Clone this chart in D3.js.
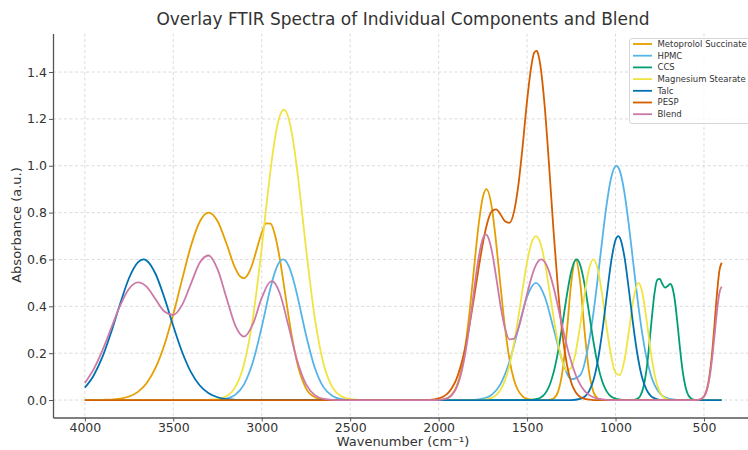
<!DOCTYPE html>
<html>
<head>
<meta charset="utf-8">
<script src="https://cdn.jsdelivr.net/npm/d3@7"></script>
<style>
body { margin: 0; background: #fff; }
text { font-family: "DejaVu Sans", sans-serif; }
</style>
</head>
<body>
<svg id="chart" width="748" height="450"></svg>
<script>
// series names / colours, in legend order
var seriesNames = ["Metoprolol Succinate", "HPMC", "CCS", "Magnesium Stearate", "Talc", "PESP", "Blend"];
var seriesColors = ["#E69F00", "#56B4E9", "#009E73", "#F0E442", "#0072B2", "#D55E00", "#CC79A7"];

var xTicks = [4000, 3500, 3000, 2500, 2000, 1500, 1000, 500];
var yTicks = [0, 0.2, 0.4, 0.6, 0.8, 1.0, 1.2, 1.4];

// [wavenumber, absorbance]
var metoprolol = [[4000,0],[3900,0.001],[3850,0.002],[3800,0.006],[3750,0.015],[3700,0.035],[3650,0.073],
  [3600,0.138],[3550,0.236],[3500,0.366],[3450,0.515],[3400,0.658],[3350,0.762],[3300,0.800],[3250,0.764],
  [3200,0.669],[3150,0.563],[3125,0.530],[3100,0.520],[3075,0.540],[3050,0.587],[3025,0.652],[3000,0.714],
  [2975,0.754],[2950,0.753],[2925,0.704],[2900,0.612],[2875,0.492],[2850,0.366],[2825,0.252],[2800,0.160],
  [2750,0.050],[2700,0.012],[2650,0.002],[2600,0],
  [2050,0],[2000,0.001],[1975,0.003],[1950,0.008],[1925,0.023],[1900,0.055],[1875,0.118],[1850,0.224],
  [1825,0.377],[1800,0.561],[1775,0.741],[1750,0.866],[1730,0.900],[1700,0.825],[1675,0.672],[1650,0.486],
  [1625,0.311],[1600,0.176],[1575,0.089],[1550,0.040],[1525,0.016],[1500,0.005],[1475,0.002],[1450,0],
  [1400,0],[1375,0.001],[1350,0.007],[1325,0.035],[1300,0.122],[1275,0.295],[1250,0.503],[1225,0.600],
  [1200,0.503],[1175,0.295],[1150,0.122],[1125,0.035],[1100,0.007],[1075,0.001],[1050,0],[400,0]];

var hpmc = [[4000,0],[3300,0],[3250,0.001],[3200,0.006],[3150,0.022],[3100,0.067],[3050,0.162],[3000,0.312],
  [2950,0.480],[2925,0.547],[2900,0.589],[2880,0.600],[2850,0.576],[2825,0.523],[2800,0.449],[2750,0.279],
  [2700,0.138],[2650,0.054],[2600,0.017],[2550,0.004],[2500,0.001],[2450,0],
  [1850,0],[1800,0.001],[1750,0.006],[1700,0.022],[1650,0.068],[1600,0.162],[1550,0.303],[1500,0.441],
  [1450,0.500],[1400,0.441],[1350,0.304],[1300,0.166],[1250,0.089],[1200,0.106],[1150,0.248],[1125,0.371],
  [1100,0.523],[1075,0.685],[1050,0.836],[1025,0.948],[995,1.000],[975,0.977],[950,0.887],[925,0.749],
  [900,0.587],[875,0.427],[850,0.289],[825,0.181],[800,0.106],[750,0.029],[700,0.006],[650,0.001],[600,0],[400,0]];

var ccs = [[4000,0],[1500,0],[1450,0.004],[1425,0.010],[1400,0.026],[1375,0.059],[1350,0.118],[1325,0.207],
  [1300,0.324],[1275,0.448],[1250,0.550],[1220,0.600],[1200,0.577],[1175,0.494],[1150,0.374],[1125,0.251],
  [1100,0.150],[1075,0.079],[1050,0.037],[1025,0.015],[1000,0.006],[975,0.002],[950,0],
  [900,0.001],[880,0.004],[860,0.018],[840,0.062],[820,0.159],[800,0.309],[780,0.454],[765,0.512],
  [750,0.517],[735,0.495],[720,0.480],[705,0.487],[690,0.496],[680,0.484],[665,0.427],[650,0.328],
  [635,0.216],[620,0.121],[605,0.058],[590,0.023],[575,0.008],[560,0.002],[540,0],[400,0]];

var mgStearate = [[4000,0],[3350,0],[3300,0.001],[3250,0.004],[3200,0.016],[3150,0.054],[3100,0.153],
  [3050,0.350],[3000,0.650],[2975,0.820],[2950,0.983],[2925,1.118],[2900,1.208],[2875,1.240],[2850,1.208],
  [2825,1.118],[2800,0.983],[2775,0.820],[2750,0.650],[2700,0.350],[2650,0.153],[2600,0.054],[2550,0.016],
  [2500,0.004],[2450,0.001],[2400,0],
  [1800,0],[1750,0.001],[1700,0.009],[1675,0.021],[1650,0.044],[1625,0.084],[1600,0.147],[1575,0.237],
  [1550,0.350],[1525,0.474],[1500,0.589],[1475,0.670],[1450,0.700],[1425,0.670],[1400,0.589],[1375,0.474],
  [1350,0.352],[1325,0.242],[1300,0.163],[1275,0.126],[1250,0.138],[1225,0.205],[1200,0.317],[1175,0.450],
  [1150,0.558],[1125,0.600],[1100,0.557],[1075,0.446],[1050,0.309],[1025,0.190],[1000,0.116],[975,0.107],
  [950,0.169],[925,0.291],[900,0.425],[870,0.500],[850,0.464],[825,0.344],[800,0.202],[775,0.094],
  [750,0.035],[725,0.010],[700,0.002],[675,0],[400,0]];

var talc = [[4000,0.053],[3950,0.105],[3900,0.185],[3850,0.292],[3800,0.412],[3750,0.521],[3700,0.588],
  [3670,0.600],[3650,0.595],[3600,0.538],[3550,0.436],[3500,0.316],[3450,0.205],[3400,0.119],[3350,0.062],
  [3300,0.029],[3250,0.012],[3200,0.004],[3150,0.001],[3100,0],
  [1250,0],[1200,0.005],[1175,0.014],[1150,0.037],[1125,0.084],[1100,0.168],[1075,0.292],[1050,0.443],
  [1025,0.589],[1000,0.683],[985,0.700],[975,0.692],[950,0.613],[925,0.474],[900,0.320],[875,0.189],
  [850,0.097],[825,0.044],[800,0.017],[775,0.006],[750,0.001],[725,0],[400,0]];

var pesp = [[4000,0],[2100,0],[2050,0.001],[2025,0.003],[2000,0.007],[1975,0.014],[1950,0.027],[1925,0.051],
  [1900,0.088],[1875,0.145],[1850,0.222],[1825,0.322],[1800,0.437],[1775,0.557],[1750,0.669],[1725,0.756],
  [1700,0.805],[1675,0.814],[1650,0.792],[1625,0.763],[1600,0.756],[1575,0.800],[1550,0.913],[1525,1.084],
  [1500,1.277],[1475,1.430],[1460,1.482],[1445,1.490],[1435,1.470],[1425,1.429],[1400,1.250],[1375,0.995],
  [1350,0.718],[1325,0.472],[1300,0.280],[1275,0.152],[1250,0.074],[1225,0.033],[1200,0.013],[1175,0.005],
  [1150,0.002],[1125,0],
  [550,0],[525,0.002],[500,0.015],[487.5,0.036],[475,0.075],[462.5,0.141],[450,0.235],[437.5,0.351],
  [425,0.466],[412.5,0.553],[400,0.586]];

var blend = [[4000,0.073],[3950,0.132],[3900,0.213],[3850,0.309],[3800,0.404],[3750,0.475],[3700,0.502],
  [3650,0.483],[3600,0.430],[3550,0.378],[3500,0.363],[3450,0.406],[3400,0.497],[3350,0.587],[3300,0.617],
  [3250,0.559],[3200,0.438],[3150,0.319],[3100,0.271],[3050,0.324],[3000,0.436],[2950,0.506],[2940,0.507],
  [2900,0.460],[2850,0.320],[2800,0.169],[2750,0.068],[2700,0.021],[2650,0.005],[2600,0.001],[2550,0],
  [2025,0],[2000,0.001],[1975,0.003],[1950,0.008],[1925,0.022],[1900,0.051],[1875,0.106],[1850,0.196],
  [1825,0.321],[1800,0.467],[1775,0.602],[1750,0.689],[1735,0.707],[1725,0.702],[1700,0.639],[1675,0.526],
  [1650,0.403],[1625,0.307],[1600,0.259],[1575,0.261],[1550,0.305],[1525,0.374],[1500,0.452],[1475,0.524],
  [1450,0.576],[1420,0.600],[1400,0.589],[1375,0.547],[1350,0.480],[1325,0.398],[1300,0.312],[1275,0.231],
  [1250,0.162],[1225,0.107],[1200,0.067],[1175,0.039],[1150,0.022],[1125,0.012],[1100,0.006],[1075,0.003],
  [1050,0.001],[1025,0],
  [550,0],[525,0.002],[500,0.015],[487.5,0.034],[475,0.069],[462.5,0.125],[450,0.204],[437.5,0.297],
  [425,0.390],[412.5,0.458],[400,0.484]];

var allSeries = [metoprolol, hpmc, ccs, mgStearate, talc, pesp, blend];

var svg = d3.select("#chart");
var plotLeft = 53, plotRight = 753.5, plotTop = 33.5, plotBottom = 417.5;

var x = d3.scaleLinear().domain([4180, 220]).range([plotLeft, plotRight]);
var y = d3.scaleLinear().domain([-0.0745, 1.5645]).range([plotBottom, plotTop]);

// grid
var grid = svg.append("g").attr("stroke", "#d2d2d2").attr("stroke-width", 0.8).attr("stroke-dasharray", "3,2.5");
grid.selectAll(".gx").data(xTicks).enter().append("line")
  .attr("x1", d => x(d)).attr("x2", d => x(d)).attr("y1", plotTop).attr("y2", plotBottom);
grid.selectAll(".gy").data(yTicks).enter().append("line")
  .attr("x1", plotLeft).attr("x2", plotRight).attr("y1", d => y(d)).attr("y2", d => y(d));

// spectra
var line = d3.line().x(d => x(d[0])).y(d => y(d[1])).curve(d3.curveMonotoneX);
svg.append("g").selectAll("path").data(allSeries).enter().append("path")
  .attr("d", line)
  .attr("fill", "none")
  .attr("stroke", (d, i) => seriesColors[i])
  .attr("stroke-width", 1.8)
  .attr("stroke-linejoin", "round");

// axes
var xAxis = svg.append("g").attr("transform", "translate(0," + plotBottom + ")")
  .call(d3.axisBottom(x).tickValues(xTicks).tickSize(4).tickSizeOuter(0).tickPadding(2).tickFormat(d3.format("d")));
var yAxis = svg.append("g").attr("transform", "translate(" + plotLeft + ",0)")
  .call(d3.axisLeft(y).tickValues(yTicks).tickSize(4).tickSizeOuter(0).tickPadding(2).tickFormat(d3.format(".1f")));
[xAxis, yAxis].forEach(function(a) {
  a.select(".domain").attr("stroke", "#555").attr("stroke-width", 1.3);
  a.selectAll(".tick line").attr("stroke", "#555");
  a.selectAll(".tick text").attr("fill", "#333").style("font-size", "12.5px").style("font-family", "DejaVu Sans");
});

// titles
svg.append("text").attr("x", 403).attr("y", 25).attr("text-anchor", "middle")
  .attr("fill", "#333").style("font-size", "17px")
  .text("Overlay FTIR Spectra of Individual Components and Blend");
svg.append("text").attr("x", 403).attr("y", 446).attr("text-anchor", "middle")
  .attr("fill", "#333").style("font-size", "13px")
  .text("Wavenumber (cm⁻¹)");
svg.append("text").attr("transform", "translate(21,225) rotate(-90)").attr("text-anchor", "middle")
  .attr("fill", "#333").style("font-size", "13px")
  .text("Absorbance (a.u.)");

// legend
var legend = svg.append("g");
legend.append("rect").attr("x", 629.5).attr("y", 38.5).attr("width", 125).attr("height", 85)
  .attr("rx", 2.5).attr("fill", "#fff").attr("fill-opacity", 0.8).attr("stroke", "#ccc").attr("stroke-width", 0.8);
var items = legend.selectAll(".item").data(seriesNames).enter().append("g")
  .attr("transform", (d, i) => "translate(0," + (44 + i * 11.7) + ")");
items.append("line").attr("x1", 633).attr("x2", 652).attr("y1", 0).attr("y2", 0)
  .attr("stroke", (d, i) => seriesColors[i]).attr("stroke-width", 1.8);
items.append("text").attr("x", 657.5).attr("y", 0).attr("dy", "0.35em")
  .attr("fill", "#333").style("font-size", "8.5px").text(d => d);
</script>
</body>
</html>
